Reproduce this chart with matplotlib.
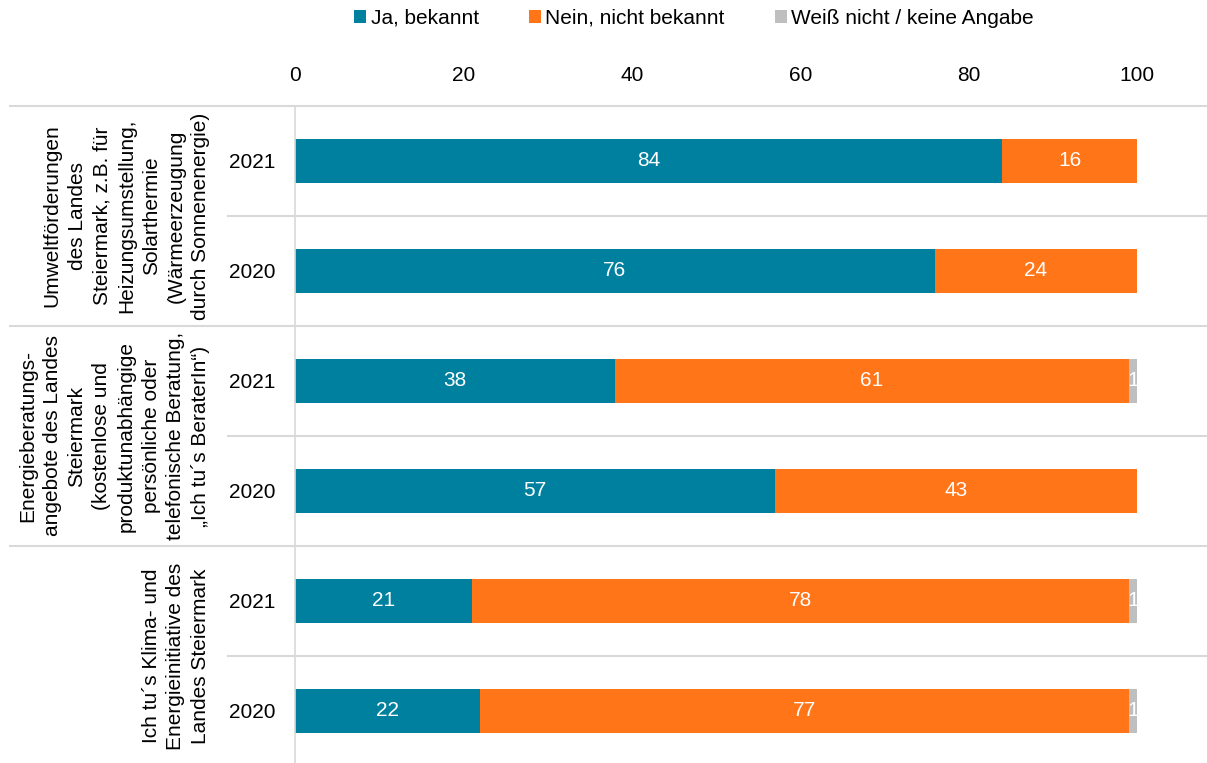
import matplotlib.pyplot as plt
from matplotlib.patches import Patch
from matplotlib.lines import Line2D
from matplotlib.transforms import blended_transform_factory

plt.rcParams['font.family'] = ['Liberation Sans', 'DejaVu Sans']

series = ["Ja, bekannt", "Nein, nicht bekannt", "Weiß nicht / keine Angabe"]
colors = ["#00809F", "#FF7518", "#BFBFBF"]

years = ["2021", "2020", "2021", "2020", "2021", "2020"]
ja = [84, 76, 38, 57, 21, 22]
nein = [16, 24, 61, 43, 78, 77]
weiss = [0, 0, 1, 0, 1, 1]

groups = [
    "Umweltförderungen\ndes Landes\nSteiermark, z.B. für\nHeizungsumstellung,\nSolarthermie\n(Wärmeerzeugung\ndurch Sonnenenergie)",
    "Energieberatungs-\nangebote des Landes\nSteiermark\n(kostenlose und\nproduktunabhängige\npersönliche oder\ntelefonische Beratung,\n„Ich tu´s BeraterIn“)",
    "Ich tu´s Klima- und\nEnergieinitiative des\nLandes Steiermark",
]

W, H = 1207, 763
FS = 15
fig = plt.figure(figsize=(W / 100, H / 100), dpi=100)
ax = fig.add_axes([295 / W, (H - 766) / H, (1180 - 295) / W, 660 / H])

y = list(range(len(years)))
left = [0] * len(y)
for vals, col in zip([ja, nein, weiss], colors):
    bars = ax.barh(y, vals, left=left, height=0.4, color=col)
    for b, v, l in zip(bars, vals, left):
        if v > 0:
            ax.text(l + v / 2, b.get_y() + b.get_height() / 2, str(v),
                    ha="center", va="center", color="white", fontsize=FS)
    left = [a + b for a, b in zip(left, vals)]

ax.set_xlim(0, 885 / 8.42)
ax.set_ylim(5.5, -0.5)
ax.set_xticks([0, 20, 40, 60, 80, 100])
ax.xaxis.tick_top()
ax.tick_params(axis="x", length=0, pad=15, labelsize=FS, colors="#000000")
ax.set_yticks(y)
ax.set_yticklabels(years, fontsize=FS)
ax.tick_params(axis="y", length=0, pad=14)
for s in ["top", "right", "bottom"]:
    ax.spines[s].set_visible(False)
ax.spines["left"].set_color("#D9D9D9")
ax.spines["left"].set_linewidth(1.2)

# separators between rows/groups
for i, ypx in enumerate([106, 216, 326, 436, 546, 656]):
    x0 = 10 if i % 2 == 0 else 228
    fig.add_artist(Line2D([x0 / W, 1], [1 - ypx / H, 1 - ypx / H],
                          transform=fig.transFigure, color="#D9D9D9", lw=1.5))

tr = blended_transform_factory(fig.transFigure, ax.transData)
for g, label in enumerate(groups):
    ax.text(210 / W, 2 * g + 0.5, label, transform=tr, rotation=90,
            ha="right", va="center", multialignment="center",
            fontsize=FS, linespacing=1.38)

handles = [Patch(facecolor=c, edgecolor="none") for c in colors]
fig.legend(handles, series, loc="center", bbox_to_anchor=(694 / W, 1 - 18 / H),
           ncol=3, frameon=False, fontsize=FS, handlelength=0.6, handleheight=0.6,
           handletextpad=0.2, columnspacing=2.4)

fig.savefig("out.png", dpi=100)
